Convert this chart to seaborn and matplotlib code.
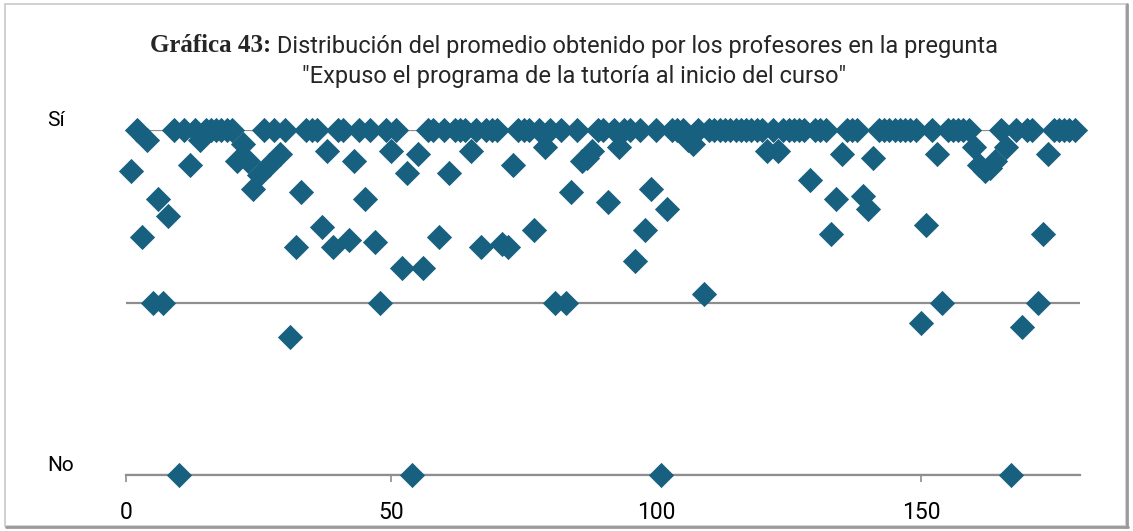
import matplotlib
matplotlib.use("Agg")
import matplotlib.pyplot as plt
import pandas as pd
import seaborn as sns
from matplotlib.patches import Rectangle
from matplotlib.lines import Line2D

# Average score per professor (1 = "Sí", 0 = "No")
profesor = list(range(1, 180))
promedio = [
    0.88, 1.00, 0.69, 0.97, 0.50, 0.80, 0.50, 0.75, 1.00, 0.00,   # 1-10
    1.00, 0.90, 1.00, 0.97, 1.00, 1.00, 1.00, 1.00, 1.00, 1.00,   # 11-20
    0.91, 0.96, 0.91, 0.83, 0.87, 1.00, 0.90, 1.00, 0.93, 1.00,   # 21-30
    0.40, 0.66, 0.82, 1.00, 1.00, 1.00, 0.72, 0.94, 0.66, 1.00,   # 31-40
    1.00, 0.68, 0.91, 1.00, 0.80, 1.00, 0.675, 0.50, 1.00, 0.94,  # 41-50
    1.00, 0.60, 0.875, 0.00, 0.93, 0.60, 1.00, 1.00, 0.69, 1.00,  # 51-60
    0.875, 1.00, 1.00, 1.00, 0.94, 1.00, 0.66, 1.00, 1.00, 1.00,  # 61-70
    0.67, 0.66, 0.90, 1.00, 1.00, 1.00, 0.71, 1.00, 0.95, 1.00,   # 71-80
    0.50, 1.00, 0.50, 0.82, 1.00, 0.91, 0.92, 0.94, 1.00, 1.00,   # 81-90
    0.79, 1.00, 0.95, 1.00, 1.00, 0.62, 1.00, 0.71, 0.83, 1.00,   # 91-100
    0.00, 0.77, 1.00, 1.00, 1.00, 0.97, 0.96, 1.00, 0.525, 1.00,  # 101-110
    1.00, 1.00, 1.00, 1.00, 1.00, 1.00, 1.00, 1.00, 1.00, 1.00,   # 111-120
    0.94, 1.00, 0.94, 1.00, 1.00, 1.00, 1.00, 1.00, 0.855, 1.00,  # 121-130
    1.00, 1.00, 0.70, 0.80, 0.93, 1.00, 1.00, 1.00, 0.81, 0.77,   # 131-140
    0.92, 1.00, 1.00, 1.00, 1.00, 1.00, 1.00, 1.00, 1.00, 0.44,   # 141-150
    0.725, 1.00, 0.93, 0.50, 1.00, 1.00, 1.00, 1.00, 1.00, 0.95,  # 151-160
    0.90, 0.88, 0.89, 0.91, 1.00, 0.95, 0.00, 1.00, 0.43, 1.00,   # 161-170
    1.00, 0.50, 0.70, 0.93, 1.00, 1.00, 1.00, 1.00, 1.00,         # 171-179
]

y_ticks = [0, 0.5, 1]
y_labels = ["No", "", "Sí"]
x_ticks = [0, 50, 100, 150]
x_labels = ["0", "50", "100", "150"]

title_bold = "Gráfica 43:"
title_rest = " Distribución del promedio obtenido por los profesores en la pregunta"
title_line2 = "\"Expuso el programa de la tutoría al inicio del curso\""

marker_color = "#17607f"
grid_color = "#8e8e8e"

sns.set_theme(style="white")
plt.rcParams["font.family"] = ["Roboto", "DejaVu Sans"]

W, H = 1133, 531
fig = plt.figure(figsize=(W / 100, H / 100), dpi=100)
fig.patch.set_facecolor("white")

ax = fig.add_axes([126 / W, 1 - 475 / H, (1080 - 126) / W, (475 - 130) / H])

df = pd.DataFrame({"profesor": profesor, "promedio": promedio})
sns.scatterplot(data=df, x="profesor", y="promedio", marker="D", s=165,
                color=marker_color, linewidth=0, ax=ax, zorder=3,
                clip_on=False, legend=False)

ax.set_xlim(0, 180)
ax.set_ylim(0, 1)
ax.set_xlabel("")
ax.set_ylabel("")

ax.set_yticks(y_ticks, y_labels)
ax.set_xticks(x_ticks, x_labels)
ax.yaxis.grid(True, color=grid_color, linewidth=1.6)
ax.xaxis.grid(False)
ax.set_axisbelow(True)

for side in ["top", "right", "left"]:
    ax.spines[side].set_visible(False)
ax.spines["bottom"].set_color(grid_color)
ax.spines["bottom"].set_linewidth(1.6)

ax.tick_params(axis="x", bottom=True, length=5, width=1.2, color=grid_color,
               labelsize=16.5, pad=14, labelcolor="black")
ax.tick_params(axis="y", left=False, length=0, labelsize=15, pad=57,
               labelcolor="black")
for lbl in ax.get_yticklabels():
    lbl.set_horizontalalignment("left")
    lbl.set_verticalalignment("bottom")

# Two-part first title line: bold serif prefix + regular text, centred together
cx = 574 / W
t1 = fig.text(0, 1 - 46 / H, title_bold, fontsize=18, fontweight="bold",
              family=["Liberation Serif", "DejaVu Serif"], va="center", ha="left")
t2 = fig.text(0, 1 - 46 / H, title_rest, fontsize=17, va="center", ha="left")
fig.text(cx, 1 - 77 / H, title_line2, fontsize=17, va="center", ha="center")

fig.canvas.draw()
r = fig.canvas.get_renderer()
w1 = t1.get_window_extent(r).width / W
w2 = t2.get_window_extent(r).width / W
x0 = cx - (w1 + w2) / 2
t1.set_x(x0)
t2.set_x(x0 + w1)

# Chart frame with a soft shadow on the right and bottom edges
fig.patches.append(Rectangle((5 / W, 5 / H), (1126 - 5) / W, (527 - 5) / H,
                             transform=fig.transFigure, fill=False,
                             edgecolor="#c8c8c8", linewidth=1.2))
fig.lines.append(Line2D([1127 / W, 1127 / W], [4 / H, 1 - 4 / H],
                        transform=fig.transFigure, color="#9a9a9a", linewidth=2))
fig.lines.append(Line2D([6 / W, 1128 / W], [4 / H, 4 / H],
                        transform=fig.transFigure, color="#9a9a9a", linewidth=2))

fig.savefig("out.png", dpi=100)
